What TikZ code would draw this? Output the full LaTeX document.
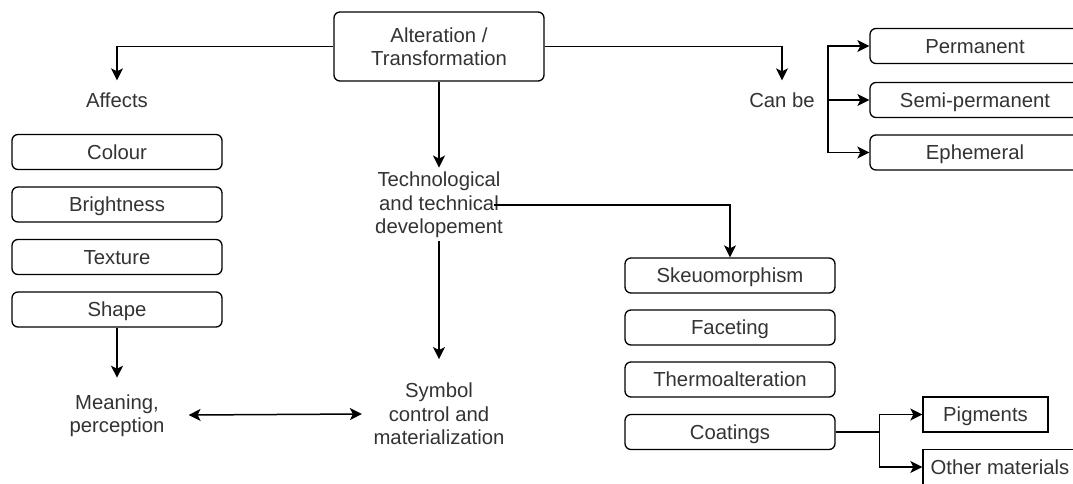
\documentclass[tikz,border=0pt]{standalone}
\usepackage{fontspec}
\setmainfont{Liberation Sans}
\usetikzlibrary{arrows.meta}
\definecolor{txt}{RGB}{51,51,51}
\begin{document}
\begin{tikzpicture}[x=1pt,y=-1pt,
  lbl/.style={text=txt, align=center, inner sep=0pt, font=\fontsize{20.3}{23.3}\selectfont},
  box/.style={draw, rounded corners=6pt, line width=1.3pt, minimum width=210pt, minimum height=35pt, inner sep=0pt, text=txt, text height=14.4pt, text depth=0pt, font=\fontsize{20.3}{23.3}\selectfont},
  sqbox/.style={box, rounded corners=0pt},
  ln/.style={line width=1.5pt},
  arr/.style={ln, -{Stealth[length=12pt,width=12pt,inset=3pt]}},
  darr/.style={ln, {Stealth[length=12pt,width=12pt,inset=3pt]}-{Stealth[length=12pt,width=12pt,inset=3pt]}}]
\clip (0,0) rectangle (1073,483);
\fill[white] (0,0) rectangle (1073,483);

% nodes
\node[box, minimum height=69pt, text height=, text depth=, align=center] (top) at (439,46.5) {Alteration /\\Transformation};
\node[lbl] (affects) at (117,100) {Affects};
\node[lbl] (canbe) at (782,100) {Can be};
\node[box] (perm) at (975,46) {Permanent};
\node[box] (semi) at (975,100) {Semi-permanent};
\node[box] (eph) at (975,152.5) {Ephemeral};

\node[box] (colour) at (117,152) {Colour};
\node[box] (bright) at (117,204.5) {Brightness};
\node[box] (texture) at (117,257) {Texture};
\node[box] (shape) at (117,309.5) {Shape};

\node[lbl] (tech) at (439,205) {Technological\\and technical\\developement};
\node[lbl] (symbol) at (439,414) {Symbol\\control and\\materialization};
\node[lbl] (meaning) at (117,416) {Meaning,\\perception};

\node[box] (skeu) at (730,275.5) {Skeuomorphism};
\node[box] (facet) at (730,327.5) {Faceting};
\node[box] (thermo) at (730,379.5) {Thermoalteration};
\node[box] (coat) at (730,432) {Coatings};
\node[sqbox, minimum width=125pt] (pig) at (985.5,414.5) {Pigments};
\node[sqbox, minimum width=154pt] (other) at (1000,467) {Other materials};

% connectors
\draw[arr] (top.west) -| ([yshift=12pt]affects.north);
\draw[arr] (top.east) -| ([yshift=12pt]canbe.north);
\draw[arr] ([xshift=13pt]canbe.east) |- (perm.west);
\draw[arr] ([xshift=13pt]canbe.east) |- (semi.west);
\draw[arr] ([xshift=13pt]canbe.east) |- (eph.west);
\draw[arr] (top.south) -- ([yshift=4.5pt]tech.north);
\draw[arr] ([xshift=-9pt]tech.east) -| (skeu.north);
\draw[arr] ([yshift=-3pt]tech.south) -- ([yshift=24pt]symbol.north);
\draw[arr] (shape.south) -- ([yshift=17pt]meaning.north);
\draw[darr] ([xshift=24pt,yshift=1pt]meaning.east) -- ([xshift=-11.5pt]symbol.west);
\draw[ln] (coat.east) -- ++(44,0) coordinate (cj);
\draw[arr] (cj) |- (pig.west);
\draw[arr] (cj) |- (other.west);
\end{tikzpicture}
\end{document}
